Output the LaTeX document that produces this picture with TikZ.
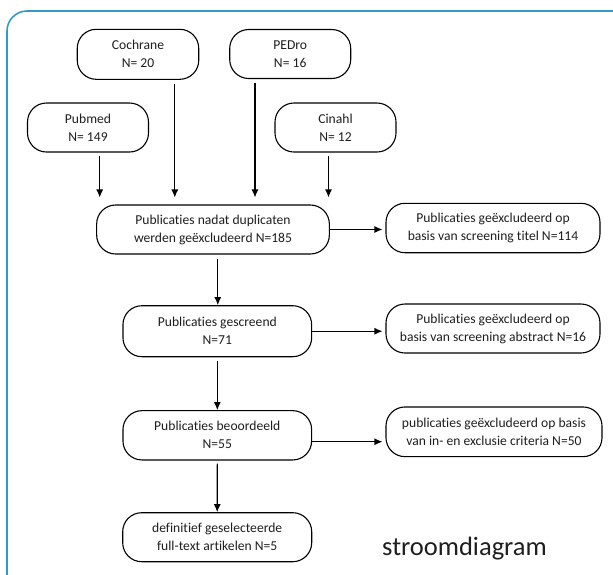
\documentclass[tikz,border=0pt]{standalone}
\usepackage{fontspec}
\setmainfont{Carlito}[RawFeature={-liga;-clig;-dlig;-calt}]
\usetikzlibrary{arrows.meta,calc}
\definecolor{framecol}{RGB}{52,152,204}
\definecolor{txt}{RGB}{30,30,30}
\begin{document}
\begin{tikzpicture}[x=1pt,y=-1pt,
  box/.style={draw, line width=1.1pt, rounded corners=19pt, align=center, inner sep=0pt,
    text=txt, font=\fontsize{13.6}{18}\selectfont},
  arr/.style={line width=1.1pt, -{Latex[length=8pt,width=7pt]}}]
\useasboundingbox (0,0) rectangle (613,574);
\begin{scope}
\clip (0,0) rectangle (613,574);
\draw[framecol, line width=1.6pt, rounded corners=20pt] (7,11) rectangle (640,600);
\end{scope}

\node[box, minimum width=121.5pt, minimum height=50pt] (cochrane) at (138,54.3) {Cochrane\\N= 20};
\node[box, minimum width=121pt, minimum height=49pt] (pedro) at (290.2,54) {PEDro\\N= 16};
\node[box, minimum width=121pt, minimum height=49pt] (pubmed) at (88,127.5) {Pubmed\\N= 149};
\node[box, minimum width=121pt, minimum height=49pt] (cinahl) at (335.5,127.5) {Cinahl\\N= 12};

\node[box, minimum width=232.7pt, minimum height=49pt] (b185) at (213,229.5) {Publicaties nadat duplicaten\\werden geëxcludeerd N=185};
\node[box, minimum width=214pt, minimum height=49.4pt] (e114) at (493,228) {Publicaties geëxcludeerd op\\basis van screening titel N=114};

\node[box, minimum width=188.7pt, minimum height=51pt] (b71) at (217.3,331.2) {Publicaties gescreend\\N=71};
\node[box, minimum width=214pt, minimum height=49pt] (e16) at (493,328.5) {Publicaties geëxcludeerd op\\basis van screening abstract N=16};

\node[box, minimum width=188.7pt, minimum height=49.3pt] (b55) at (217.3,435.3) {Publicaties beoordeeld\\N=55};
\node[box, minimum width=216pt, minimum height=49.7pt] (e50) at (494,431.8) {publicaties geëxcludeerd op basis\\van in- en exclusie criteria N=50};

\node[box, minimum width=189pt, minimum height=49pt] (b5) at (217.2,537.2) {definitief geselecteerde\\full-text artikelen N=5};

\node[anchor=base west, inner sep=0pt, text=txt, font=\fontsize{26.5}{31}\selectfont] (title) at (382,555) {stroomdiagram};

\draw[arr] ($(pubmed.south)+(11.7,3)$) -- ($(pubmed.south |- b185.north)+(11.7,-7)$);
\draw[arr] ($(cochrane.south)+(36.8,4)$) -- ($(cochrane.south |- b185.north)+(36.8,-7)$);
\draw[arr] ($(pedro.south)+(-35.2,4)$) -- ($(pedro.south |- b185.north)+(-35.2,-7)$);
\draw[arr] ($(cinahl.south)+(-7,3)$) -- ($(cinahl.south |- b185.north)+(-7,-7)$);

\draw[arr] ($(b185.south -| b71.north)+(0.5,4)$) -- ($(b71.north)+(0.5,0)$);
\draw[arr] ($(b71.south)+(0,3.5)$) -- (b55.north);
\draw[arr] ($(b55.south)+(0,3)$) -- (b5.north);

\draw[arr] (b185.east) -- ($(e114.west |- b185.east)+(-3,0)$);
\draw[arr] (b71.east) -- ($(e16.west |- b71.east)+(-3,0)$);
\draw[arr] ($(b55.east)+(0,6.4)$) -- ($(e50.west |- b55.east)+(-3,6.4)$);
\end{tikzpicture}
\end{document}
